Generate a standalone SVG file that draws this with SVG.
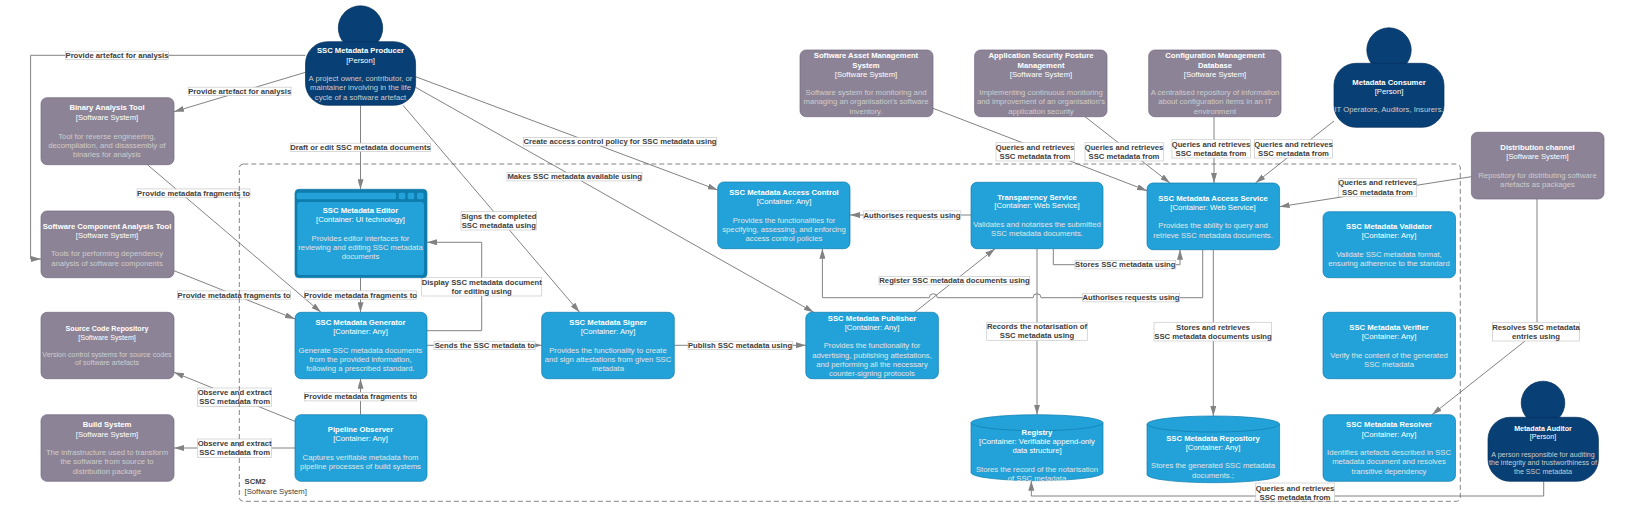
<svg xmlns="http://www.w3.org/2000/svg" width="1625" height="520" viewBox="0 0 1625 520">
<style>
text{font-family:"Liberation Sans",Arial,sans-serif;font-size:7.7px;text-anchor:middle}
.b{font-weight:bold;fill:#fff}
.w{fill:#fff}
.d{fill:#ccc}
.e{fill:#e4e4e4}
.s{font-size:7.1px}
.sys{fill:#8C8496;stroke:#736782;stroke-width:.7}
.con{fill:#23A2D9;stroke:#0E7DAD;stroke-width:.7}
.per{fill:#083F75;stroke:#06315C;stroke-width:.7}
.c{fill:none;stroke:#828282;stroke-width:1;marker-end:url(#a)}
.lb{fill:#fff;stroke:#c8c8c8;stroke-width:.7}
.lt{font-weight:bold;fill:#404040}
.bd{fill:none;stroke:#666;stroke-width:.8;stroke-dasharray:5 3}
.sl{fill:#404040;text-anchor:start}
</style>
<defs>
<marker id="a" markerUnits="userSpaceOnUse" markerWidth="10" markerHeight="6" viewBox="0 0 10 6" refX="10" refY="3" orient="auto"><path d="M0 0L10 3L0 6Z" fill="#828282"/></marker>
</defs>
<g id="connectors">
<path class="c" d="M305.5 55.3H30.6V259H41"/>
<path class="c" d="M305.5 72.3L174 111.7"/>
<path class="c" d="M360.5 105.3V189.3"/>
<path class="c" d="M403 105.3L579.6 312.3"/>
<path class="c" d="M415.6 87.3L813.8 312.3"/>
<path class="c" d="M415.6 76.7L717.7 190"/>
<path class="c" d="M147.4 164.7L321 312.3"/>
<path class="c" d="M174 270.7L295 319"/>
<path class="c" d="M360.5 277.7V312.3"/>
<path class="c" d="M427 330.7H481.7V242.3H427"/>
<path class="c" d="M427 345.3H541.7"/>
<path class="c" d="M360.5 414.7V378.7"/>
<path class="c" d="M295 421.3L174 372.3"/>
<path class="c" d="M295 448H174"/>
<path class="c" d="M674.3 345.3H805.8"/>
<path class="c" d="M914.7 312.3L995 248.7"/>
<path class="c" d="M971 215H850"/>
<path class="c" d="M1053.3 248.7V264.7H1180V249.7"/>
<path class="c" d="M1202.7 249.7V297.7H1041a4 4 0 0 0-8 0H937.3a4 4 0 0 0-8 0H822.4V248.7"/>
<path class="c" d="M1037 248.7V414.7"/>
<path class="c" d="M1213.3 249.7V416"/>
<path class="c" d="M933 108.3L1147 190.7"/>
<path class="c" d="M1085 116.7L1170 183"/>
<path class="c" d="M1214 116.7V183"/>
<path class="c" d="M1334 121L1255.5 183"/>
<path class="c" d="M1471.4 176.7L1279.6 206.7"/>
<path class="c" d="M1537 199V331.5L1432 414.7"/>
<path class="c" d="M1543.7 481.3V496H1031.3V480.7"/>
<g id="edge-labels">
<rect class="lb" x="65.4" y="51.2" width="103" height="8.3"/><text class="lt" x="117" y="58">Provide artefact for analysis</text>
<rect class="lb" x="188.4" y="87.2" width="102.6" height="8.3"/><text class="lt" x="239.7" y="94">Provide artefact for analysis</text>
<rect class="lb" x="290.3" y="143.2" width="140.4" height="8.3"/><text class="lt" x="360.5" y="150">Draft or edit SSC metadata documents</text>
<rect class="lb" x="461" y="211.5" width="75.6" height="18.5"/><text class="lt" x="498.8" y="218.7">Signs the completed</text><text class="lt" x="498.8" y="228">SSC metadata using</text>
<rect class="lb" x="507" y="172.6" width="135" height="8.3"/><text class="lt" x="574.7" y="179.4">Makes SSC metadata available using</text>
<rect class="lb" x="523.4" y="137.6" width="193.3" height="8.3"/><text class="lt" x="620" y="144.4">Create access control policy for SSC metadata using</text>
<rect class="lb" x="137" y="188.9" width="113" height="8.3"/><text class="lt" x="193.5" y="195.7">Provide metadata fragments to</text>
<rect class="lb" x="177.4" y="290.9" width="113" height="8.3"/><text class="lt" x="234" y="297.7">Provide metadata fragments to</text>
<rect class="lb" x="304.5" y="290.9" width="112" height="8.3"/><text class="lt" x="360.5" y="297.7">Provide metadata fragments to</text>
<rect class="lb" x="421.7" y="277.7" width="120" height="18.3"/><text class="lt" x="481.7" y="285">Display SSC metadata document</text><text class="lt" x="481.7" y="294.4">for editing using</text>
<rect class="lb" x="434" y="341.2" width="101" height="8.3"/><text class="lt" x="484.7" y="348">Sends the SSC metadata to</text>
<rect class="lb" x="304.5" y="392.6" width="112" height="8.3"/><text class="lt" x="360.5" y="399.4">Provide metadata fragments to</text>
<rect class="lb" x="197.6" y="388" width="74" height="18.3"/><text class="lt" x="234.6" y="395">Observe and extract</text><text class="lt" x="234.6" y="404">SSC metadata from</text>
<rect class="lb" x="197.6" y="439" width="74" height="18.3"/><text class="lt" x="234.6" y="446">Observe and extract</text><text class="lt" x="234.6" y="455.4">SSC metadata from</text>
<rect class="lb" x="688" y="341.2" width="104.4" height="8.3"/><text class="lt" x="740" y="348">Publish SSC metadata using</text>
<rect class="lb" x="879" y="276.6" width="150.7" height="8.3"/><text class="lt" x="954.5" y="283.4">Register SSC metadata documents using</text>
<rect class="lb" x="863.7" y="210.9" width="97.1" height="8.3"/><text class="lt" x="912" y="217.7">Authorises requests using</text>
<rect class="lb" x="1075" y="260.6" width="100.7" height="8.3"/><text class="lt" x="1125.3" y="267.4">Stores SSC metadata using</text>
<rect class="lb" x="1082.7" y="293.6" width="97" height="8.3"/><text class="lt" x="1131" y="300.4">Authorises requests using</text>
<rect class="lb" x="986.7" y="322.3" width="100.6" height="18"/><text class="lt" x="1037" y="328.7">Records the notarisation of</text><text class="lt" x="1037" y="338">SSC metadata using</text>
<rect class="lb" x="1154" y="322.3" width="117.6" height="18.7"/><text class="lt" x="1213" y="330">Stores and retrieves</text><text class="lt" x="1213" y="339.4">SSC metadata documents using</text>
<rect class="lb" x="996" y="142.7" width="78.4" height="18.3"/><text class="lt" x="1035" y="149.7">Queries and retrieves</text><text class="lt" x="1035" y="159">SSC metadata from</text>
<rect class="lb" x="1085" y="142.7" width="78.5" height="18.3"/><text class="lt" x="1124" y="149.7">Queries and retrieves</text><text class="lt" x="1124" y="159">SSC metadata from</text>
<rect class="lb" x="1172" y="139.7" width="78.5" height="18.3"/><text class="lt" x="1211" y="146.7">Queries and retrieves</text><text class="lt" x="1211" y="156">SSC metadata from</text>
<rect class="lb" x="1254.4" y="139.7" width="78.2" height="18.3"/><text class="lt" x="1293.5" y="146.7">Queries and retrieves</text><text class="lt" x="1293.5" y="156">SSC metadata from</text>
<rect class="lb" x="1338.4" y="178.4" width="78.2" height="18.3"/><text class="lt" x="1377.5" y="185.4">Queries and retrieves</text><text class="lt" x="1377.5" y="194.7">SSC metadata from</text>
<rect class="lb" x="1492.4" y="322.3" width="87.1" height="18.7"/><text class="lt" x="1536" y="330">Resolves SSC metadata</text><text class="lt" x="1536" y="339.4">entries using</text>
<rect class="lb" x="1255.8" y="483" width="78.5" height="18.3"/><text class="lt" x="1295" y="490.7">Queries and retrieves</text><text class="lt" x="1295" y="500">SSC metadata from</text>
</g>
</g>
<g id="scm2">
<rect class="bd" x="239.3" y="164" width="1221" height="337.3" rx="4"/>
<text class="sl" x="244.5" y="484" font-weight="bold">SCM2</text>
<text class="sl" x="244.5" y="493.5">[Software System]</text>
</g>
<g id="producer">
<circle class="per" cx="360.5" cy="28" r="22.2"/>
<rect class="per" x="305.5" y="41.7" width="110.1" height="63.6" rx="22"/>
<text class="b" x="360.5" y="53.4">SSC Metadata Producer</text><text class="w" x="360.5" y="62.7">[Person]</text>
<text class="d" x="360.5" y="81.4">A project owner, contributor, or</text><text class="d" x="360.5" y="90.4">maintainer involving in the life</text><text class="d" x="360.5" y="99.7">cycle of a software artefact</text>
</g>
<g id="binary-analysis-tool">
<rect class="sys" x="41" y="97.7" width="133" height="67" rx="6"/>
<text class="b" x="107" y="110.4">Binary Analysis Tool</text><text class="w" x="107" y="120">[Software System]</text>
<text class="d" x="107" y="138.7">Tool for reverse engineering,</text><text class="d" x="107" y="147.7">decompilation, and disassembly of</text><text class="d" x="107" y="156.7">binaries for analysis</text>
</g>
<g id="software-component-analysis-tool">
<rect class="sys" x="41" y="211" width="133" height="66.7" rx="6"/>
<text class="b" x="107" y="228.7">Software Component Analysis Tool</text><text class="w" x="107" y="237.7">[Software System]</text>
<text class="d" x="107" y="256.4">Tools for performing dependency</text><text class="d" x="107" y="265.7">analysis of software components</text>
</g>
<g id="source-code-repository">
<rect class="sys" x="41" y="312.3" width="133" height="66.4" rx="6"/>
<text class="b s" x="107" y="331.2">Source Code Repository</text><text class="w s" x="107" y="339.5">[Software System]</text>
<text class="d s" x="107" y="356.8">Version control systems for source codes</text><text class="d s" x="107" y="365.2">of software artefacts</text>
</g>
<g id="build-system">
<rect class="sys" x="41" y="414.7" width="133" height="66.6" rx="6"/>
<text class="b" x="107" y="427.4">Build System</text><text class="w" x="107" y="436.7">[Software System]</text>
<text class="d" x="107" y="455.4">The infrastructure used to transform</text><text class="d" x="107" y="464.4">the software from source to</text><text class="d" x="107" y="473.7">distribution package</text>
</g>
<g id="editor">
<rect x="295" y="189.3" width="132" height="88.4" rx="4" fill="#0E7DAD" stroke="#0E7DAD" stroke-width=".7"/>
<rect x="296.7" y="192.7" width="99.3" height="6.6" rx="1.5" fill="#23A2D9"/>
<rect x="398.7" y="192.7" width="6.6" height="6.6" rx="1.5" fill="#23A2D9"/>
<rect x="407.7" y="192.7" width="6.6" height="6.6" rx="1.5" fill="#23A2D9"/>
<rect x="417" y="192.7" width="6.6" height="6.6" rx="1.5" fill="#23A2D9"/>
<rect x="297.3" y="202" width="126.7" height="73" rx="3" fill="#23A2D9"/>
<text class="b" x="360.5" y="212.7">SSC Metadata Editor</text><text class="w" x="360.5" y="222">[Container: UI technology]</text>
<text class="e" x="360.5" y="240.7">Provides editor interfaces for</text><text class="e" x="360.5" y="249.7">reviewing and editing SSC metadata</text><text class="e" x="360.5" y="259">documents</text>
</g>
<g id="generator">
<rect class="con" x="295" y="312.3" width="132" height="66.4" rx="6"/>
<text class="b" x="360.5" y="325">SSC Metadata Generator</text><text class="w" x="360.5" y="334.4">[Container: Any]</text>
<text class="e" x="360.5" y="353">Generate SSC metadata documents</text><text class="e" x="360.5" y="362">from the provided information,</text><text class="e" x="360.5" y="371.4">following a prescribed standard.</text>
</g>
<g id="pipeline-observer">
<rect class="con" x="295" y="414.7" width="132" height="66.6" rx="6"/>
<text class="b" x="360.5" y="432.4">Pipeline Observer</text><text class="w" x="360.5" y="441.4">[Container: Any]</text>
<text class="e" x="360.5" y="460">Captures verifiable metadata from</text><text class="e" x="360.5" y="469.4">pipeline processes of build systems</text>
</g>
<g id="signer">
<rect class="con" x="541.7" y="312.3" width="132.6" height="66.4" rx="6"/>
<text class="b" x="608" y="325">SSC Metadata Signer</text><text class="w" x="608" y="334.4">[Container: Any]</text>
<text class="e" x="608" y="353">Provides the functionality to create</text><text class="e" x="608" y="362">and sign attestations from given SSC</text><text class="e" x="608" y="371.4">metadata</text>
</g>
<g id="publisher">
<rect class="con" x="805.8" y="312.3" width="132.6" height="66.4" rx="6"/>
<text class="b" x="872" y="320.7">SSC Metadata Publisher</text><text class="w" x="872" y="330">[Container: Any]</text>
<text class="e" x="872" y="348.4">Provides the functionality for</text><text class="e" x="872" y="357.7">advertising, publishing attestations,</text><text class="e" x="872" y="367">and performing all the necessary</text><text class="e" x="872" y="376.4">counter-signing protocols</text>
</g>
<g id="access-control">
<rect class="con" x="717.7" y="182" width="132.3" height="66.7" rx="6"/>
<text class="b" x="784" y="194.7">SSC Metadata Access Control</text><text class="w" x="784" y="204">[Container: Any]</text>
<text class="e" x="784" y="222.7">Provides the functionalities for</text><text class="e" x="784" y="231.7">specifying, assessing, and enforcing</text><text class="e" x="784" y="241">access control policies</text>
</g>
<g id="transparency-service">
<rect class="con" x="971" y="182.3" width="132" height="66.4" rx="6"/>
<text class="b" x="1037" y="199.7">Transparency Service</text><text class="w" x="1037" y="208.4">[Container: Web Service]</text>
<text class="e" x="1037" y="227">Validates and notarises the submitted</text><text class="e" x="1037" y="236.4">SSC metadata documents.</text>
</g>
<g id="access-service">
<rect class="con" x="1147" y="183" width="132.6" height="66.7" rx="6"/>
<text class="b" x="1213" y="200.7">SSC Metadata Access Service</text><text class="w" x="1213" y="209.7">[Container: Web Service]</text>
<text class="e" x="1213" y="228.4">Provides the ability to query and</text><text class="e" x="1213" y="237.7">retrieve SSC metadata documents.</text>
</g>
<g id="validator">
<rect class="con" x="1323" y="211.7" width="132.5" height="66" rx="6"/>
<text class="b" x="1389" y="229.4">SSC Metadata Validator</text><text class="w" x="1389" y="238.4">[Container: Any]</text>
<text class="e" x="1389" y="257">Validate SSC metadata format,</text><text class="e" x="1389" y="266.4">ensuring adherence to the standard</text>
</g>
<g id="verifier">
<rect class="con" x="1323" y="312.3" width="132.5" height="66.4" rx="6"/>
<text class="b" x="1389" y="330">SSC Metadata Verifier</text><text class="w" x="1389" y="339">[Container: Any]</text>
<text class="e" x="1389" y="357.7">Verify the content of the generated</text><text class="e" x="1389" y="367">SSC metadata</text>
</g>
<g id="resolver">
<rect class="con" x="1323" y="414.7" width="132.5" height="66.6" rx="6"/>
<text class="b" x="1389" y="427.4">SSC Metadata Resolver</text><text class="w" x="1389" y="436.7">[Container: Any]</text>
<text class="e" x="1389" y="455.4">Identifies artefacts described in SSC</text><text class="e" x="1389" y="464.4">metadata document and resolves</text><text class="e" x="1389" y="473.7">transitive dependency</text>
</g>
<g id="registry">
<path class="con" d="M971 422.7a66 8 0 0 1 132 0V472.7a66 8 0 0 1-132 0Z"/>
<path d="M971 422.7a66 8 0 0 0 132 0" fill="none" stroke="#0E7DAD" stroke-width=".7"/>
<text class="b" x="1037" y="434.7">Registry</text><text class="w" x="1037" y="444">[Container: Verifiable append-only</text><text class="w" x="1037" y="453.4">data structure]</text>
<text class="e" x="1037" y="471.7">Stores the record of the notarisation</text><text class="e" x="1037" y="480.7">of SSC metadata</text>
</g>
<g id="repository">
<path class="con" d="M1147 424a66.3 8 0 0 1 132.6 0V474.7a66.3 8 0 0 1-132.6 0Z"/>
<path d="M1147 424a66.3 8 0 0 0 132.6 0" fill="none" stroke="#0E7DAD" stroke-width=".7"/>
<text class="b" x="1213" y="440.7">SSC Metadata Repository</text><text class="w" x="1213" y="449.7">[Container: Any]</text>
<text class="e" x="1213" y="468.4">Stores the generated SSC metadata</text><text class="e" x="1213" y="477.7">documents.;</text>
</g>
<g id="software-asset-management">
<rect class="sys" x="800" y="50" width="133" height="66.7" rx="6"/>
<text class="b" x="866" y="58.4">Software Asset Management</text><text class="b" x="866" y="67.7">System</text><text class="w" x="866" y="76.7">[Software System]</text>
<text class="d" x="866" y="95">Software system for monitoring and</text><text class="d" x="866" y="104.4">managing an organisation's software</text><text class="d" x="866" y="114">inventory.</text>
</g>
<g id="application-security">
<rect class="sys" x="974.6" y="50" width="132.4" height="66.7" rx="6"/>
<text class="b" x="1041" y="58.4">Application Security Posture</text><text class="b" x="1041" y="67.7">Management</text><text class="w" x="1041" y="76.7">[Software System]</text>
<text class="d" x="1041" y="95">Implementing continuous monitoring</text><text class="d" x="1041" y="104.4">and improvement of an organisation's</text><text class="d" x="1041" y="114">application security</text>
</g>
<g id="configuration-management">
<rect class="sys" x="1148.7" y="50" width="132.3" height="66.7" rx="6"/>
<text class="b" x="1215" y="58.4">Configuration Management</text><text class="b" x="1215" y="67.7">Database</text><text class="w" x="1215" y="76.7">[Software System]</text>
<text class="d" x="1215" y="95">A centralised repository of information</text><text class="d" x="1215" y="104.4">about configuration items in an IT</text><text class="d" x="1215" y="114">environment</text>
</g>
<g id="consumer">
<circle class="per" cx="1389" cy="50" r="22.2"/>
<rect class="per" x="1334" y="63.3" width="110" height="64" rx="22"/>
<text class="b" x="1389" y="84.7">Metadata Consumer</text><text class="w" x="1389" y="94">[Person]</text>
<text class="d" x="1389" y="112.4">IT Operators, Auditors, Insurers.</text>
</g>
<g id="distribution-channel">
<rect class="sys" x="1471.4" y="132.3" width="132.6" height="66.7" rx="6"/>
<text class="b" x="1537.5" y="150">Distribution channel</text><text class="w" x="1537.5" y="159">[Software System]</text>
<text class="d" x="1537.5" y="177.7">Repository for distributing software</text><text class="d" x="1537.5" y="187">artefacts as packages</text>
</g>
<g id="auditor">
<circle class="per" cx="1543" cy="403" r="21.8"/>
<rect class="per" x="1488" y="417.3" width="110.4" height="64" rx="22"/>
<text class="b s" x="1543" y="430.8">Metadata Auditor</text><text class="w s" x="1543" y="439.2">[Person]</text>
<text class="d s" x="1543" y="456.8">A person responsible for auditing</text><text class="d s" x="1543" y="465.2">the integrity and trustworthiness of</text><text class="d s" x="1543" y="473.8">the SSC metadata</text>
</g>
</svg>
